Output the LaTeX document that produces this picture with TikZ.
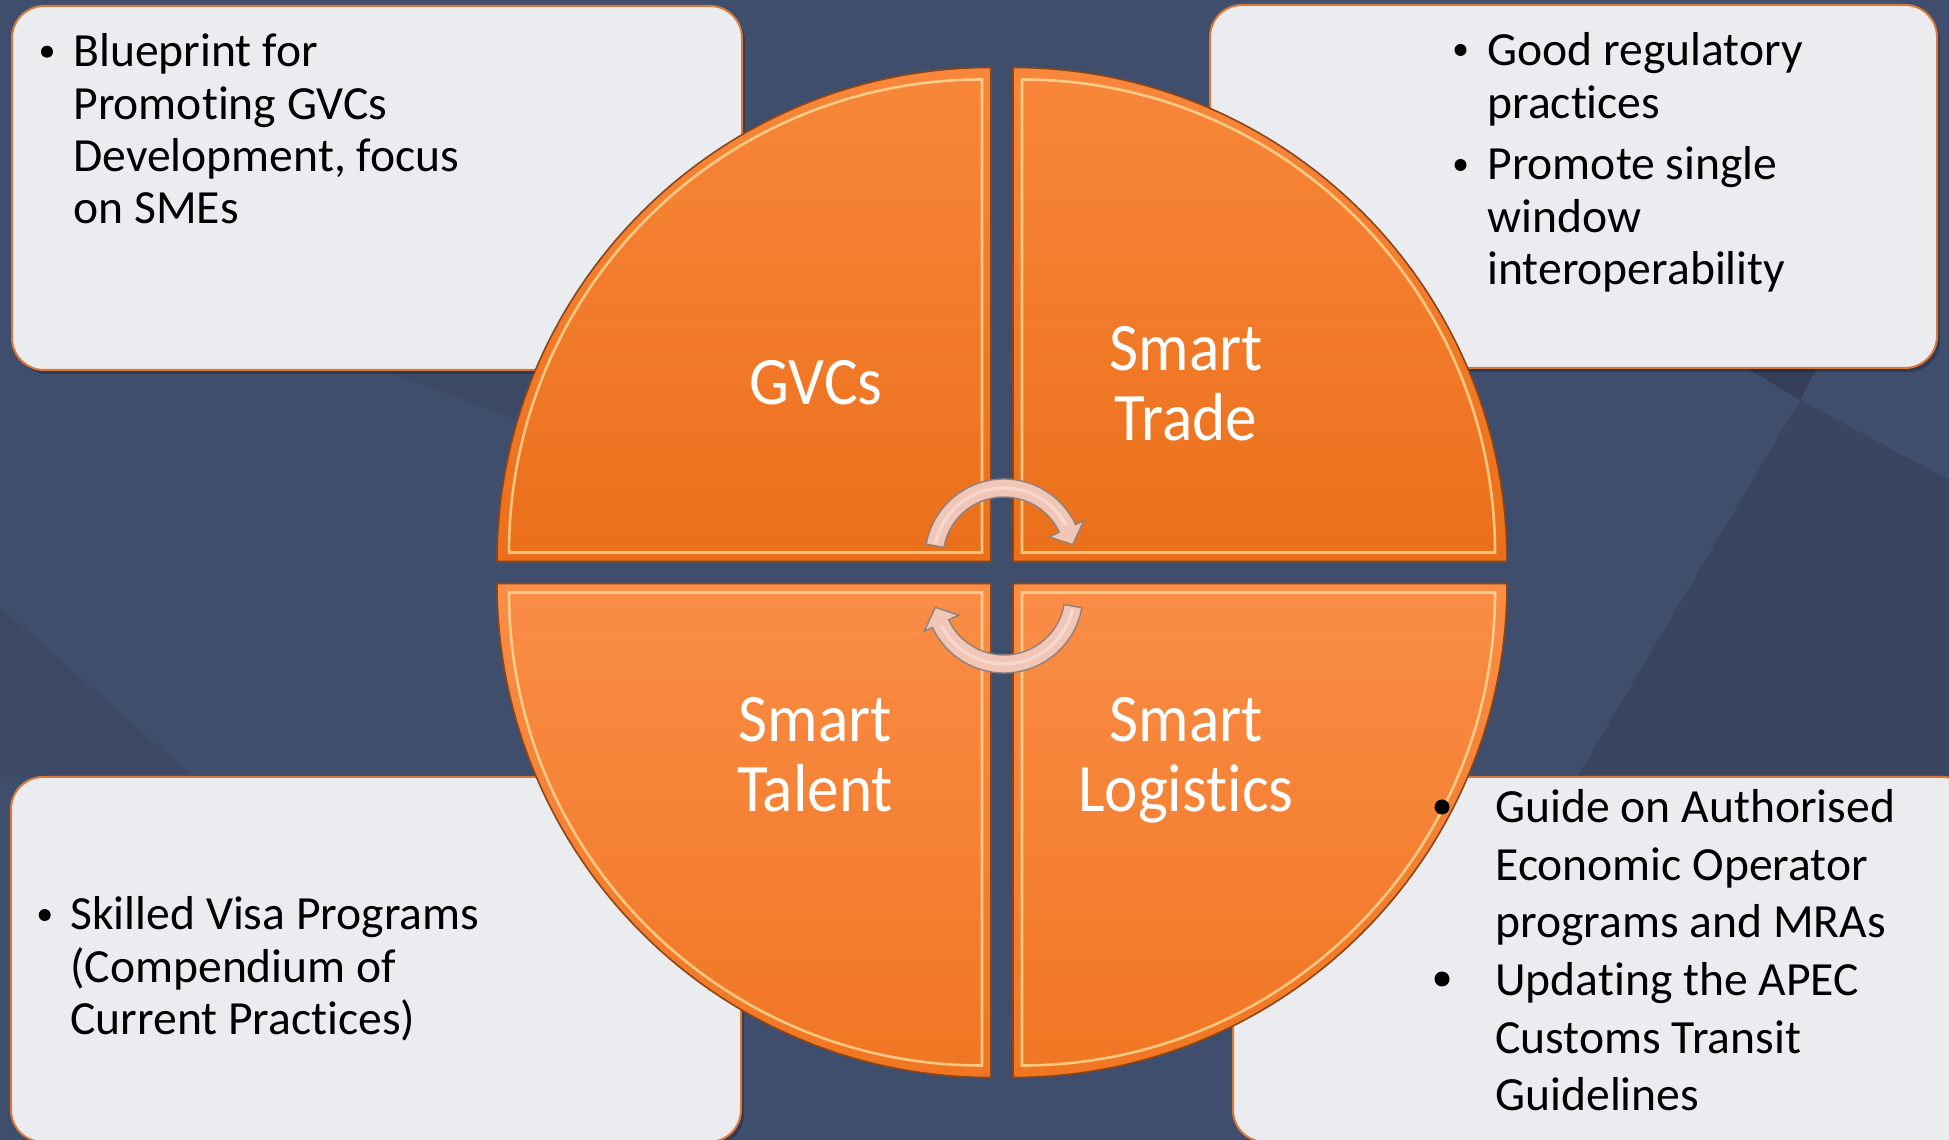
\documentclass[tikz,border=0pt]{standalone}
\usepackage{fontspec}
\setmainfont{Carlito}[Ligatures=NoCommon]
\newfontfamily\labelfont{Carlito}[FakeStretch=0.93, Ligatures=NoCommon]
\definecolor{bg}{HTML}{404E6D}
\definecolor{bgdark}{HTML}{3A4561}
\definecolor{bgdarker}{HTML}{343E58}
\definecolor{boxfill}{HTML}{EBECEF}
\definecolor{boxline}{HTML}{D9783A}
\definecolor{qtop}{HTML}{F8873B}
\definecolor{qbot}{HTML}{EB6F1A}
\definecolor{qtopb}{HTML}{FA8D47}
\definecolor{qbotb}{HTML}{F07622}
\definecolor{qline}{HTML}{8A4616}
\definecolor{qhi}{HTML}{FFE9A6}
\definecolor{arfill}{HTML}{F1C6B6}
\definecolor{arline}{HTML}{8C817E}
\newcommand{\txtblock}[1]{\parbox[t]{230pt}{\raggedright #1}}
\newcommand{\ctrblock}[1]{\parbox[t]{200pt}{\centering #1}}
\begin{document}
\begin{tikzpicture}[x=0.5pt,y=0.5pt,
  infobox/.style={fill=boxfill, draw=boxline, line width=1pt, rounded corners=16pt},
  boxshadow/.style={fill=black, opacity=0.22, rounded corners=16pt},
  quadtop/.style={draw=qline, line width=0.8pt, top color=qtop, bottom color=qbot},
  quadbot/.style={draw=qline, line width=0.8pt, top color=qtopb, bottom color=qbotb},
  quadhi/.style={draw=qhi, line width=1.3pt, opacity=0.7},
  bodytext/.style={anchor=base west, inner sep=0pt, text=black, font=\fontsize{23.8}{26.2}\selectfont},
  bodytextwide/.style={anchor=base west, inner sep=0pt, text=black, font=\fontsize{23.8}{28.75}\selectfont},
  smalldot/.style={circle, fill=black, inner sep=0pt, minimum size=6pt},
  bigdot/.style={circle, fill=black, inner sep=0pt, minimum size=7.5pt},
  qlabel/.style={anchor=base, inner sep=0pt, text=white, font=\labelfont\fontsize{34}{35}\selectfont},
  cyc/.style={fill=arfill, draw=arline, line width=0.7pt},
  cychi/.style={draw=white, opacity=0.35, line width=1.5pt}
]
\useasboundingbox (0,0) rectangle (1949,1140);
% background
\fill[bg] (0,0) rectangle (1949,1140);
\fill[bgdark] (1800,740) -- (1949,660) -- (1949,300) -- (1540,300) -- cycle;
\fill[bgdarker] (1747,772) -- (1817,772) -- (1800,740) -- cycle;
\fill[bgdark, opacity=0.6] (0,533) -- (193,363) -- (0,363) -- cycle;
\fill[bgdark, opacity=0.5] (383,770) -- (600,770) -- (600,690) -- cycle;
% info boxes
\fill[boxshadow] (15,766) rectangle (745,1130);
\fill[boxshadow] (1213,768) rectangle (1940,1131);
\fill[boxshadow] (14,-6) rectangle (744,359);
\fill[boxshadow] (1236,-6) rectangle (1978,359);
\path[infobox] (12,770) rectangle (742,1134);
\path[infobox] (1210,772) rectangle (1937,1135);
\path[infobox] (11,-2) rectangle (741,363);
\path[infobox] (1233,-2) rectangle (1975,363);
% quadrants
\path[quadtop] (991,578.5) -- ++(-494,0) arc[start angle=180, end angle=90, radius=494] -- cycle;
\path[quadtop] (1013,578.5) -- ++(0,494) arc[start angle=90, end angle=0, radius=494] -- cycle;
\path[quadbot] (991,556.5) -- ++(0,-494) arc[start angle=270, end angle=180, radius=494] -- cycle;
\path[quadbot] (1013,556.5) -- ++(494,0) arc[start angle=0, end angle=-90, radius=494] -- cycle;
% bevel highlights
\draw[quadhi] (982,587.5) -- ++(-473,0) arc[start angle=180, end angle=90, radius=473] -- cycle;
\draw[quadhi] (1022,587.5) -- ++(0,473) arc[start angle=90, end angle=0, radius=473] -- cycle;
\draw[quadhi] (982,547.5) -- ++(0,-473) arc[start angle=270, end angle=180, radius=473] -- cycle;
\draw[quadhi] (1022,547.5) -- ++(473,0) arc[start angle=0, end angle=-90, radius=473] -- cycle;
% cycle arrows
\begin{scope}[shift={(1004,582)}]
  \path[cyc] (170:79) arc[start angle=170, end angle=25, radius=79] -- (25:88) -- (11:70) -- (25:50) -- (25:61) arc[start angle=25, end angle=170, radius=61] -- cycle;
  \draw[cychi] (168:70) arc[start angle=168, end angle=28, radius=70];
\end{scope}
\begin{scope}[shift={(1004,546)}, rotate=180]
  \path[cyc] (170:79) arc[start angle=170, end angle=25, radius=79] -- (25:88) -- (11:70) -- (25:50) -- (25:61) arc[start angle=25, end angle=170, radius=61] -- cycle;
  \draw[cychi] (168:70) arc[start angle=168, end angle=28, radius=70];
\end{scope}
% quadrant labels
\node[qlabel] (gvcs) at (816,735) {\ctrblock{GVCs}};
\node[qlabel] (trade) at (1186,769) {\ctrblock{Smart\\Trade}};
\node[qlabel] (talent) at (815,398) {\ctrblock{Smart\\Talent}};
\node[qlabel] (logistics) at (1186,398) {\ctrblock{Smart\\Logistics}};
% top-left box text
\node[smalldot] (tlb) at (47,1088.3) {};
\node[bodytext] (tlt) at (73,1073.3) {\txtblock{Blueprint for\\Promoting GVCs\\Development, focus\\on SMEs}};
% top-right box text
\node[smalldot] (trb1) at (1460.5,1090) {};
\node[bodytext] (trt1) at (1487,1074.3) {\txtblock{Good regulatory\\practices}};
\node[smalldot] (trb2) at (1460.5,975) {};
\node[bodytext] (trt2) at (1487,960) {\txtblock{Promote single\\window\\interoperability}};
% bottom-left box text
\node[smalldot] (blb) at (44.7,225) {};
\node[bodytext] (blt) at (70,210) {\txtblock{Skilled Visa Programs\\(Compendium of\\Current Practices)}};
% bottom-right box text
\node[bigdot] (brb1) at (1442,333) {};
\node[bodytextwide] (brt1) at (1495,317) {\txtblock{Guide on Authorised\\Economic Operator\\programs and MRAs}};
\node[bigdot] (brb2) at (1442,161) {};
\node[bodytextwide] (brt2) at (1495,144) {\txtblock{Updating the APEC\\Customs Transit\\Guidelines}};
\end{tikzpicture}
\end{document}
